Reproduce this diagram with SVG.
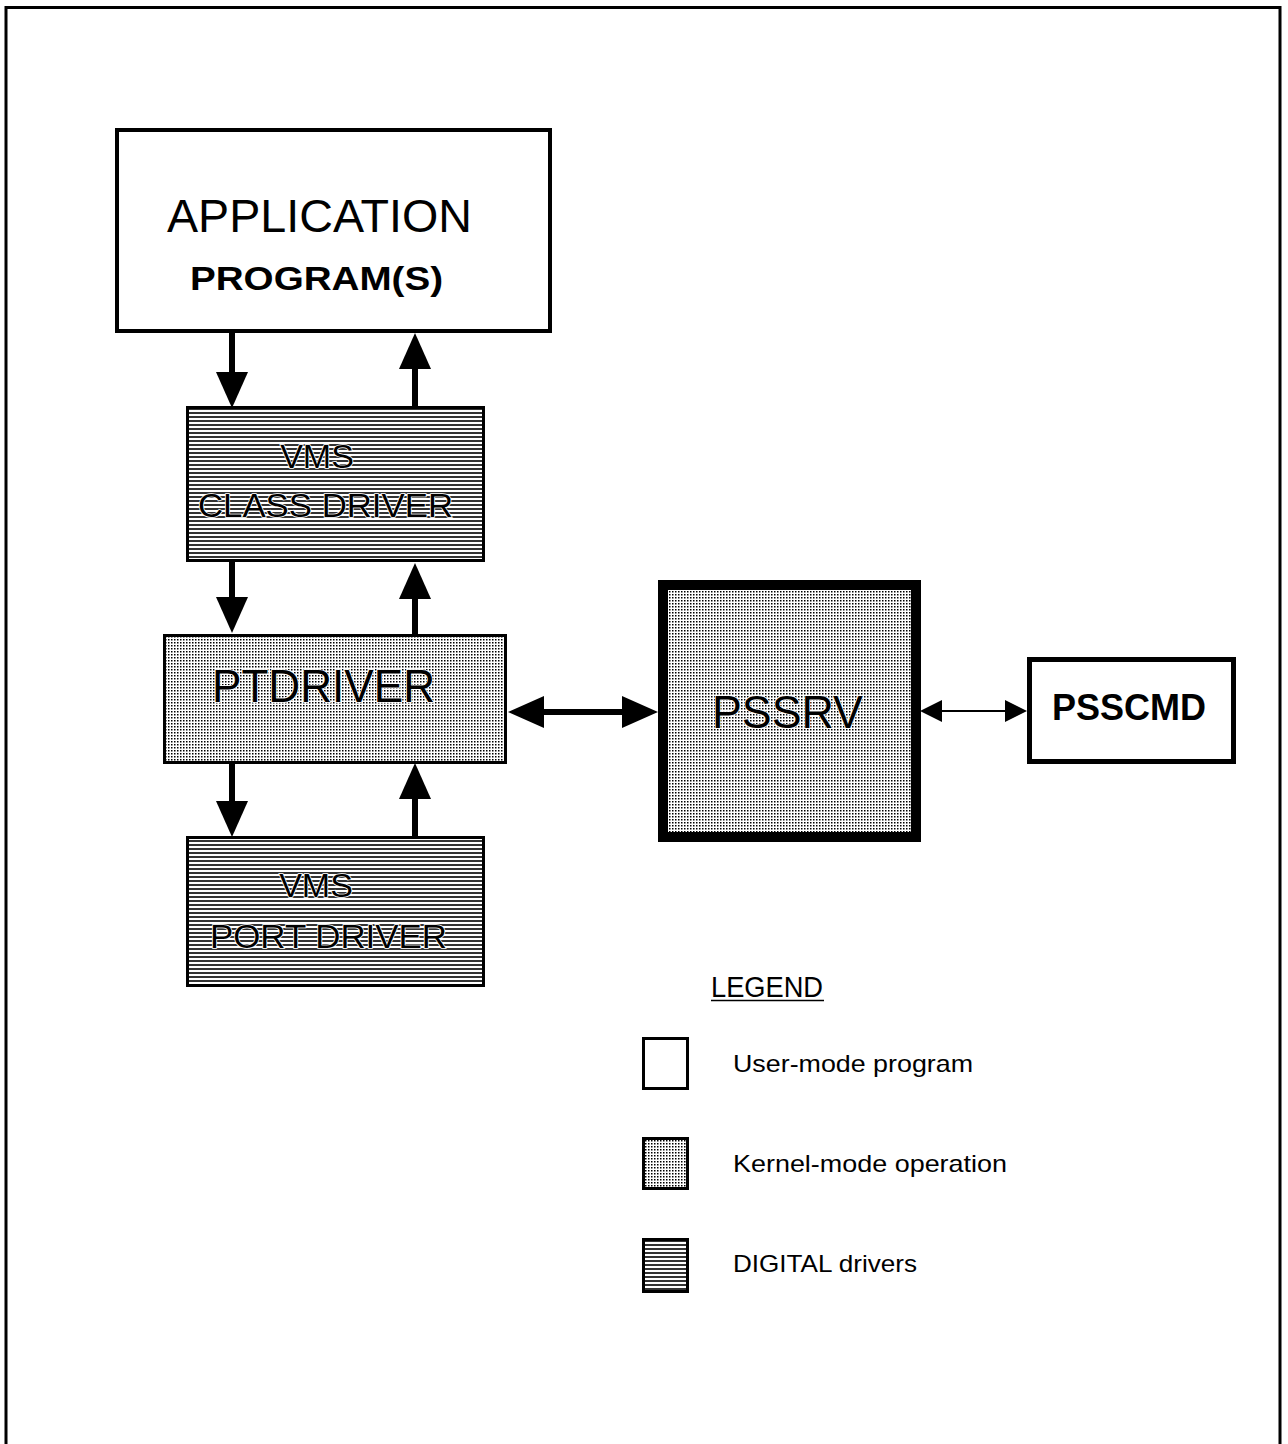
<svg xmlns="http://www.w3.org/2000/svg" width="1288" height="1444" viewBox="0 0 1288 1444">
<style>
.t{font-family:"Liberation Sans",Arial,sans-serif;fill:#000}
.box{stroke:#000}
.lbl{stroke:#fff;stroke-width:1.5;paint-order:stroke}
.big{stroke:#000;stroke-width:6;fill:none}
</style>
<defs>
<pattern id="dots" width="3" height="3" patternUnits="userSpaceOnUse">
<rect width="3" height="3" fill="#fff"/>
<rect width="1.5" height="1.5" fill="#000"/>
</pattern>
<pattern id="stripes" width="4" height="4" patternUnits="userSpaceOnUse">
<rect width="4" height="4" fill="#fff"/>
<rect width="4" height="2" fill="#333"/>
</pattern>
<marker id="bh" viewBox="0 0 36 32" refX="16" refY="16" markerWidth="36" markerHeight="32" markerUnits="userSpaceOnUse" orient="auto-start-reverse">
<path d="M0,0 L36,16 L0,32 z" fill="#000"/>
</marker>
<marker id="sh" viewBox="0 0 22 22" refX="12" refY="11" markerWidth="22" markerHeight="22" markerUnits="userSpaceOnUse" orient="auto-start-reverse">
<path d="M0,0 L22,11 L0,22 z" fill="#000"/>
</marker>
</defs>
<rect width="1288" height="1444" fill="#fff"/>
<path d="M6,1444 V7.5 H1280 V1444" fill="none" stroke="#000" stroke-width="3"/>

<g id="connectors">
<line class="big" x1="232" y1="333" x2="232" y2="388" marker-end="url(#bh)"/>
<line class="big" x1="415" y1="408" x2="415" y2="353" marker-end="url(#bh)"/>
<line class="big" x1="232" y1="562" x2="232" y2="613" marker-end="url(#bh)"/>
<line class="big" x1="415" y1="634" x2="415" y2="583" marker-end="url(#bh)"/>
<line class="big" x1="232" y1="764" x2="232" y2="817" marker-end="url(#bh)"/>
<line class="big" x1="415" y1="837" x2="415" y2="783" marker-end="url(#bh)"/>
<line class="big" x1="528" y1="712" x2="638" y2="712" marker-start="url(#bh)" marker-end="url(#bh)"/>
<line x1="930" y1="711" x2="1017" y2="711" stroke="#000" stroke-width="2" marker-start="url(#sh)" marker-end="url(#sh)"/>
</g>

<g id="application">
<rect class="box" x="117" y="130" width="433" height="201" fill="#fff" stroke-width="4"/>
<text class="t" x="167" y="232" font-size="46" textLength="305" lengthAdjust="spacingAndGlyphs">APPLICATION</text>
<text class="t" x="190" y="290" font-size="33" font-weight="bold" textLength="253" lengthAdjust="spacingAndGlyphs">PROGRAM(S)</text>
</g>

<g id="class-driver">
<rect class="box" x="187.5" y="407.5" width="296" height="153" fill="url(#stripes)" stroke-width="3"/>
<text class="t lbl" x="317" y="468" font-size="34" text-anchor="middle">VMS</text>
<text class="t lbl" x="198" y="517" font-size="34" textLength="255" lengthAdjust="spacingAndGlyphs">CLASS DRIVER</text>
</g>

<g id="ptdriver">
<rect class="box" x="164.5" y="635.5" width="341" height="127" fill="url(#dots)" stroke-width="3"/>
<text class="t lbl" x="212" y="702" font-size="46" textLength="223" lengthAdjust="spacingAndGlyphs">PTDRIVER</text>
</g>

<g id="port-driver">
<rect class="box" x="187.5" y="837.5" width="296" height="148" fill="url(#stripes)" stroke-width="3"/>
<text class="t lbl" x="316" y="897" font-size="34" text-anchor="middle">VMS</text>
<text class="t lbl" x="210" y="948" font-size="34" textLength="237" lengthAdjust="spacingAndGlyphs">PORT DRIVER</text>
</g>

<g id="pssrv">
<rect class="box" x="663" y="585" width="253" height="252" fill="url(#dots)" stroke-width="10"/>
<text class="t lbl" x="712" y="728" font-size="46" textLength="151" lengthAdjust="spacingAndGlyphs">PSSRV</text>
</g>

<g id="psscmd">
<rect class="box" x="1029.5" y="659.5" width="204" height="102" fill="#fff" stroke-width="5"/>
<text class="t" x="1052" y="720" font-size="37" font-weight="bold" textLength="154" lengthAdjust="spacingAndGlyphs">PSSCMD</text>
</g>

<g id="legend">
<text class="t" x="711" y="997" font-size="29" textLength="112" lengthAdjust="spacingAndGlyphs">LEGEND</text>
<line x1="711" y1="1000.5" x2="824" y2="1000.5" stroke="#000" stroke-width="1.5"/>
<rect class="box" x="643.5" y="1038.5" width="44" height="50" fill="#fff" stroke-width="3"/>
<text class="t" x="733" y="1072" font-size="24" textLength="240" lengthAdjust="spacingAndGlyphs">User-mode program</text>
<rect class="box" x="643.5" y="1138.5" width="44" height="50" fill="url(#dots)" stroke-width="3"/>
<text class="t" x="733" y="1172" font-size="24" textLength="274" lengthAdjust="spacingAndGlyphs">Kernel-mode operation</text>
<rect class="box" x="643.5" y="1239.5" width="44" height="52" fill="url(#stripes)" stroke-width="3"/>
<text class="t" x="733" y="1272" font-size="24" textLength="184" lengthAdjust="spacingAndGlyphs">DIGITAL drivers</text>
</g>
</svg>
